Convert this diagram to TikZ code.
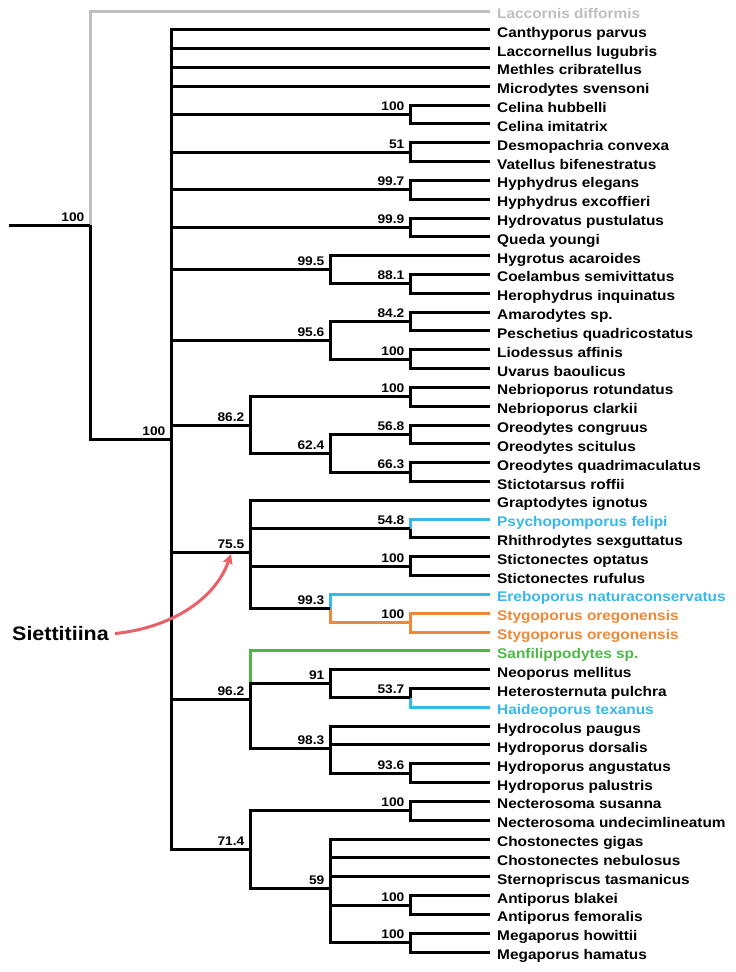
\documentclass[tikz,border=0pt]{standalone}
\usepackage{fontspec}
\newfontfamily\treefont{Liberation Sans}[FakeStretch=1.1]
\usetikzlibrary{arrows.meta}
\definecolor{cgray}{RGB}{190,190,190}
\definecolor{cblue}{RGB}{55,184,232}
\definecolor{corange}{RGB}{238,136,56}
\definecolor{cgreen}{RGB}{78,183,74}
\definecolor{cred}{RGB}{234,96,104}
\begin{document}
\begin{tikzpicture}[x=1pt,y=-1pt,
  br/.style={line width=3pt, line join=miter},
  tiplab/.style={anchor=base west, inner sep=0pt, font=\treefont\bfseries\fontsize{14}{14}\selectfont},
  bs/.style={anchor=base east, inner sep=0pt, font=\treefont\bfseries\fontsize{12.5}{12.5}\selectfont},
  arr/.style={line width=3pt, draw=cred, -{Stealth[length=10pt,width=10pt,inset=2pt]}}]
\useasboundingbox (0,0) rectangle (736,972);
% tips
\foreach \i/\nm/\col in {
 0/Laccornis difformis/cgray, 1/Canthyporus parvus/black, 2/Laccornellus lugubris/black,
 3/Methles cribratellus/black, 4/Microdytes svensoni/black, 5/Celina hubbelli/black,
 6/Celina imitatrix/black, 7/Desmopachria convexa/black, 8/Vatellus bifenestratus/black,
 9/Hyphydrus elegans/black, 10/Hyphydrus excoffieri/black, 11/Hydrovatus pustulatus/black,
 12/Queda youngi/black, 13/Hygrotus acaroides/black, 14/Coelambus semivittatus/black,
 15/Herophydrus inquinatus/black, 16/Amarodytes sp./black, 17/Peschetius quadricostatus/black,
 18/Liodessus affinis/black, 19/Uvarus baoulicus/black, 20/Nebrioporus rotundatus/black,
 21/Nebrioporus clarkii/black, 22/Oreodytes congruus/black, 23/Oreodytes scitulus/black,
 24/Oreodytes quadrimaculatus/black, 25/Stictotarsus roffii/black, 26/Graptodytes ignotus/black,
 27/Psychopomporus felipi/cblue, 28/Rhithrodytes sexguttatus/black, 29/Stictonectes optatus/black,
 30/Stictonectes rufulus/black, 31/Ereboporus naturaconservatus/cblue, 32/Stygoporus oregonensis/corange,
 33/Stygoporus oregonensis/corange, 34/Sanfilippodytes sp./cgreen, 35/Neoporus mellitus/black,
 36/Heterosternuta pulchra/black, 37/Haideoporus texanus/cblue, 38/Hydrocolus paugus/black,
 39/Hydroporus dorsalis/black, 40/Hydroporus angustatus/black, 41/Hydroporus palustris/black,
 42/Necterosoma susanna/black, 43/Necterosoma undecimlineatum/black, 44/Chostonectes gigas/black,
 45/Chostonectes nebulosus/black, 46/Sternopriscus tasmanicus/black, 47/Antiporus blakei/black,
 48/Antiporus femoralis/black, 49/Megaporus howittii/black, 50/Megaporus hamatus/black}{
  \coordinate (e\i) at (490,{11+18.82*\i});
  \node[tiplab, text=\col] (t\i) at (497,{11+18.82*\i+7.5}) {\nm};
}
% internal nodes
\coordinate (root) at (9,225);
\coordinate (nA) at (90,225);
\coordinate (nB) at (171,439);
\coordinate (ncel) at (410,114.5);
\coordinate (ndes) at (410,152.2);
\coordinate (nhyp) at (410,189.8);
\coordinate (nhdv) at (410,227.4);
\coordinate (ncoe) at (410,283.9);
\coordinate (n995) at (330,269.8);
\coordinate (namar) at (410,321.5);
\coordinate (nlio) at (410,359.2);
\coordinate (n956) at (330,340.3);
\coordinate (nneb) at (410,396.8);
\coordinate (nore1) at (410,434.5);
\coordinate (nore2) at (410,472.1);
\coordinate (n624) at (330,453.3);
\coordinate (n862) at (250,425);
\coordinate (npsy) at (410,528.6);
\coordinate (nsti) at (410,566.2);
\coordinate (nsty) at (410,622.7);
\coordinate (n993) at (330,608.5);
\coordinate (n755) at (250,552);
\coordinate (n537) at (410,697.9);
\coordinate (n91) at (330,683.8);
\coordinate (n936) at (410,773.2);
\coordinate (n983) at (330,748);
\coordinate (n962) at (250,699);
\coordinate (nnec) at (410,810.9);
\coordinate (nanti) at (410,905);
\coordinate (nmega) at (410,942.6);
\coordinate (n59) at (330,888);
\coordinate (n714) at (250,849.4);
% coloured branches first
\draw[br, cgray] (nA) |- (e0);
\draw[br, cblue] (npsy) |- (e27);
\draw[br, cblue] (n993) |- (e31);
\draw[br, corange] (n993) |- (nsty);
\draw[br, corange] (nsty) |- (e32);
\draw[br, corange] (nsty) |- (e33);
\draw[br, cgreen] (n962) |- (e34);
\draw[br, cblue] (n537) |- (e37);
% black branches
\draw[br] (root) -- (nA);
\draw[br] (nA) |- (nB);
\foreach \c in {e1,e2,e3,e4,ncel,ndes,nhyp,nhdv,n995,n956,n862,n755,n962,n714}{\draw[br] (nB) |- (\c);}
\draw[br] (ncel) |- (e5); \draw[br] (ncel) |- (e6);
\draw[br] (ndes) |- (e7); \draw[br] (ndes) |- (e8);
\draw[br] (nhyp) |- (e9); \draw[br] (nhyp) |- (e10);
\draw[br] (nhdv) |- (e11); \draw[br] (nhdv) |- (e12);
\draw[br] (n995) |- (e13); \draw[br] (n995) |- (ncoe);
\draw[br] (ncoe) |- (e14); \draw[br] (ncoe) |- (e15);
\draw[br] (n956) |- (namar); \draw[br] (n956) |- (nlio);
\draw[br] (namar) |- (e16); \draw[br] (namar) |- (e17);
\draw[br] (nlio) |- (e18); \draw[br] (nlio) |- (e19);
\draw[br] (n862) |- (nneb); \draw[br] (n862) |- (n624);
\draw[br] (nneb) |- (e20); \draw[br] (nneb) |- (e21);
\draw[br] (n624) |- (nore1); \draw[br] (n624) |- (nore2);
\draw[br] (nore1) |- (e22); \draw[br] (nore1) |- (e23);
\draw[br] (nore2) |- (e24); \draw[br] (nore2) |- (e25);
\draw[br] (n755) |- (e26); \draw[br] (n755) |- (npsy); \draw[br] (n755) |- (nsti); \draw[br] (n755) |- (n993);
\draw[br] (npsy) |- (e28);
\draw[br] (nsti) |- (e29); \draw[br] (nsti) |- (e30);
\draw[br] (n962) |- (n91); \draw[br] (n962) |- (n983);
\draw[br] (n91) |- (e35); \draw[br] (n91) |- (n537);
\draw[br] (n537) |- (e36);
\draw[br] (n983) |- (e38); \draw[br] (n983) |- (e39); \draw[br] (n983) |- (n936);
\draw[br] (n936) |- (e40); \draw[br] (n936) |- (e41);
\draw[br] (n714) |- (nnec); \draw[br] (n714) |- (n59);
\draw[br] (nnec) |- (e42); \draw[br] (nnec) |- (e43);
\foreach \c in {e44,e45,e46,nanti,nmega}{\draw[br] (n59) |- (\c);}
\draw[br] (nanti) |- (e47); \draw[br] (nanti) |- (e48);
\draw[br] (nmega) |- (e49); \draw[br] (nmega) |- (e50);
% support values
\foreach \c/\v in {nA/100, nB/100, ncel/100, ndes/51, nhyp/99.7, nhdv/99.9, n995/99.5, ncoe/88.1,
  n956/95.6, namar/84.2, nlio/100, n862/86.2, nneb/100, n624/62.4, nore1/56.8, nore2/66.3,
  n755/75.5, npsy/54.8, nsti/100, n993/99.3, nsty/100, n962/96.2, n91/91, n537/53.7,
  n983/98.3, n936/93.6, n714/71.4, nnec/100, n59/59, nanti/100, nmega/100}{
  \node[bs] (s\c) at ([shift={(-5.5,-4)}]\c) {\v};
}
% Siettitiina annotation
\node[anchor=base west, inner sep=0pt, font=\treefont\bfseries\fontsize{19.5}{19.5}\selectfont] (sie) at (12,640.5) {Siettitiina};
\coordinate (arrtip) at (231,554);
\draw[arr] ([xshift=6pt]sie.east) .. controls (170,628) and (215,600) .. (arrtip);
\end{tikzpicture}
\end{document}
